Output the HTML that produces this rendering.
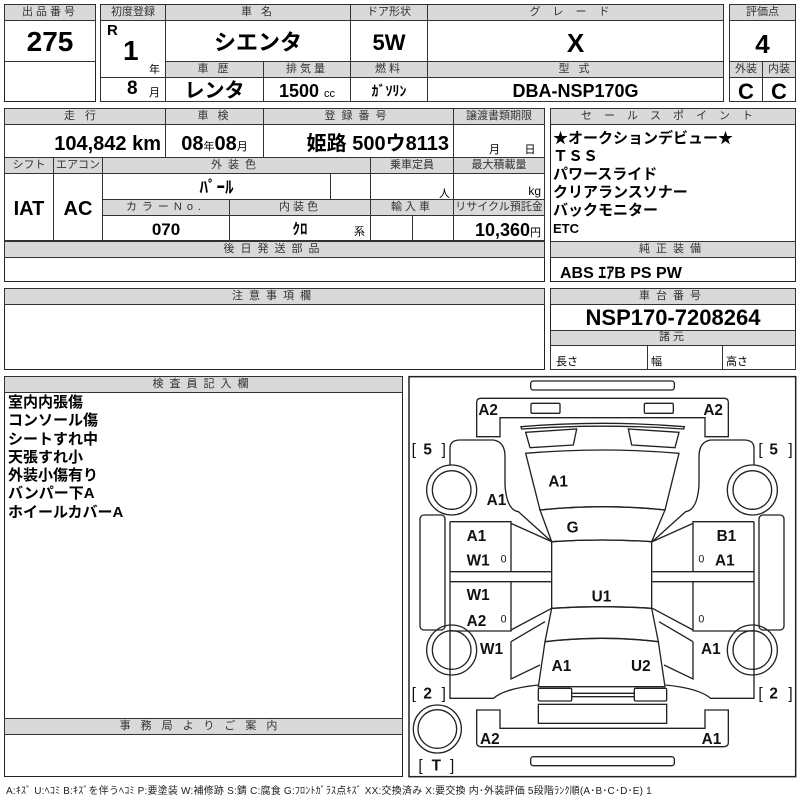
<!DOCTYPE html>
<html><head><meta charset="utf-8">
<style>
body{margin:0;width:800px;height:800px;background:#fff;position:relative;overflow:hidden;font-family:"Liberation Sans","Noto Sans CJK JP",sans-serif;color:#000}
div{position:absolute;box-sizing:border-box}
.b{border:1.5px solid #222}
.h{background:#d9d9d9;border:1px solid #333;font-size:11px;color:#333;text-align:center;line-height:14px;letter-spacing:3px;overflow:hidden;white-space:nowrap}
.c{border:1px solid #333;overflow:hidden;white-space:nowrap}
.v{font-weight:bold;text-align:center;font-size:22px}
.s{font-size:11px;font-weight:normal}
</style></head><body>
<!-- block1 -->
<div class="b" style="left:4px;top:4px;width:92px;height:98px"></div>
<div class="h" style="left:4px;top:4px;width:92px;height:17px">出品番号</div>
<div class="c v" style="left:4px;top:20px;width:92px;height:42px;font-size:28px;line-height:42px">275</div>
<!-- block2 -->
<div class="b" style="left:100px;top:4px;width:624px;height:98px"></div>
<div class="h" style="left:100px;top:4px;width:66px;height:17px;letter-spacing:0">初度登録</div>
<div class="h" style="left:165px;top:4px;width:186px;height:17px">車 名</div>
<div class="h" style="left:350px;top:4px;width:78px;height:17px;letter-spacing:0">ドア形状</div>
<div class="h" style="left:427px;top:4px;width:297px;height:17px;letter-spacing:12px">グレード</div>
<div class="c" style="left:100px;top:20px;width:66px;height:58px"><span style="position:absolute;left:6px;top:1px;font-weight:bold;font-size:15px">R</span><span style="position:absolute;left:22px;top:14px;font-weight:bold;font-size:28px">1</span><span style="position:absolute;left:48px;top:40px;font-size:11px">年</span></div>
<div class="c" style="left:100px;top:77px;width:66px;height:25px"><span style="position:absolute;left:26px;top:0;font-weight:bold;font-size:19px">8</span><span style="position:absolute;left:48px;top:6px;font-size:11px">月</span></div>
<div class="c v" style="left:165px;top:20px;width:186px;height:42px;line-height:44px">シエンタ</div>
<div class="c v" style="left:350px;top:20px;width:78px;height:42px;line-height:44px">5W</div>
<div class="c v" style="left:427px;top:20px;width:297px;height:42px;line-height:44px;font-size:26px">X</div>
<div class="h" style="left:165px;top:61px;width:99px;height:17px">車 歴</div>
<div class="h" style="left:263px;top:61px;width:88px;height:17px">排気量</div>
<div class="h" style="left:350px;top:61px;width:78px;height:17px">燃料</div>
<div class="h" style="left:427px;top:61px;width:297px;height:17px">型 式</div>
<div class="c v" style="left:165px;top:77px;width:99px;height:25px;line-height:26px;font-size:20px">レンタ</div>
<div class="c v" style="left:263px;top:77px;width:88px;height:25px;line-height:26px;font-size:18px">1500 <span class="s">cc</span></div>
<div class="c v" style="left:350px;top:77px;width:78px;height:25px;line-height:26px;font-size:14px">ｶﾞｿﾘﾝ</div>
<div class="c v" style="left:427px;top:77px;width:297px;height:25px;line-height:26px;font-size:18px">DBA-NSP170G</div>
<!-- block3 -->
<div class="b" style="left:729px;top:4px;width:67px;height:98px"></div>
<div class="h" style="left:729px;top:4px;width:67px;height:17px;letter-spacing:0">評価点</div>
<div class="c v" style="left:729px;top:20px;width:67px;height:42px;line-height:46px;font-size:26px">4</div>
<div class="h" style="left:729px;top:61px;width:34px;height:17px;letter-spacing:0">外装</div>
<div class="h" style="left:762px;top:61px;width:34px;height:17px;letter-spacing:0">内装</div>
<div class="c v" style="left:729px;top:77px;width:34px;height:25px;line-height:27px">C</div>
<div class="c v" style="left:762px;top:77px;width:34px;height:25px;line-height:27px">C</div>
<!-- block4 -->
<div class="b" style="left:4px;top:108px;width:541px;height:174px"></div>
<div class="h" style="left:4px;top:108px;width:162px;height:17px;letter-spacing:10px">走行</div>
<div class="h" style="left:165px;top:108px;width:99px;height:17px">車 検</div>
<div class="h" style="left:263px;top:108px;width:191px;height:17px;letter-spacing:6px">登録番号</div>
<div class="h" style="left:453px;top:108px;width:92px;height:17px;letter-spacing:0">譲渡書類期限</div>
<div class="c v" style="left:4px;top:124px;width:162px;height:34px;line-height:38px;text-align:right;padding-right:4px;font-size:20px">104,842 km</div>
<div class="c v" style="left:165px;top:124px;width:99px;height:34px;line-height:38px;font-size:20px">08<span class="s">年</span>08<span class="s">月</span></div>
<div class="c v" style="left:263px;top:124px;width:191px;height:34px;line-height:38px;text-align:right;padding-right:4px;font-size:20px">姫路 500ウ8113</div>
<div class="c" style="left:453px;top:124px;width:92px;height:34px;font-size:11px;padding:16px 0 0 35px">月&nbsp;&nbsp;&nbsp;&nbsp;&nbsp;&nbsp;&nbsp;&nbsp;日</div>
<div class="h" style="left:4px;top:157px;width:50px;height:17px;letter-spacing:0">シフト</div>
<div class="h" style="left:53px;top:157px;width:50px;height:17px;letter-spacing:0">エアコン</div>
<div class="h" style="left:102px;top:157px;width:269px;height:17px;letter-spacing:6px">外装色</div>
<div class="h" style="left:370px;top:157px;width:84px;height:17px;letter-spacing:0">乗車定員</div>
<div class="h" style="left:453px;top:157px;width:92px;height:17px;letter-spacing:0">最大積載量</div>
<div class="c v" style="left:4px;top:173px;width:50px;height:68px;line-height:70px;font-size:20px">IAT</div>
<div class="c v" style="left:53px;top:173px;width:50px;height:68px;line-height:70px;font-size:20px">AC</div>
<div class="c v" style="left:102px;top:173px;width:229px;height:27px;line-height:28px;font-size:17px">ﾊﾟｰﾙ</div>
<div class="c" style="left:330px;top:173px;width:41px;height:27px"></div>
<div class="c" style="left:370px;top:173px;width:84px;height:27px;font-size:11px;text-align:right;padding:11px 3px 0 0">人</div>
<div class="c" style="left:453px;top:173px;width:92px;height:27px;font-size:12px;text-align:right;padding:10px 3px 0 0">kg</div>
<div class="h" style="left:102px;top:199px;width:128px;height:17px;letter-spacing:5px">カラーNo.</div>
<div class="h" style="left:229px;top:199px;width:142px;height:17px">内装色</div>
<div class="h" style="left:370px;top:199px;width:84px;height:17px">輸入車</div>
<div class="h" style="left:453px;top:199px;width:92px;height:17px;letter-spacing:0">リサイクル預託金</div>
<div class="c v" style="left:102px;top:215px;width:128px;height:26px;line-height:28px;font-size:17px">070</div>
<div class="c v" style="left:229px;top:215px;width:142px;height:26px;line-height:28px;font-size:15px">ｸﾛ<span class="s" style="position:absolute;right:5px;top:2px">系</span></div>
<div class="c" style="left:370px;top:215px;width:43px;height:26px"></div>
<div class="c" style="left:412px;top:215px;width:42px;height:26px"></div>
<div class="c v" style="left:453px;top:215px;width:92px;height:26px;line-height:28px;font-size:18px;text-align:right;padding-right:3px">10,360<span class="s">円</span></div>
<div class="h" style="left:4px;top:241px;width:541px;height:17px;letter-spacing:6px">後日発送部品</div>
<!-- block5 -->
<div class="b" style="left:550px;top:108px;width:246px;height:174px"></div>
<div class="h" style="left:550px;top:108px;width:246px;height:17px;letter-spacing:12px">セールスポイント</div>
<div style="left:553px;top:130px;font-size:15px;font-weight:bold;line-height:18px;white-space:nowrap">★オークションデビュー★<br>ＴＳＳ<br>パワースライド<br>クリアランスソナー<br>バックモニター<br><span style="font-size:13px">ETC</span></div>
<div class="h" style="left:550px;top:241px;width:246px;height:17px;letter-spacing:6px">純正装備</div>
<div style="left:560px;top:259px;font-size:16px;font-weight:bold">ABS ｴｱB PS PW</div>
<!-- block6 -->
<div class="b" style="left:4px;top:288px;width:541px;height:82px"></div>
<div class="h" style="left:4px;top:288px;width:541px;height:17px;letter-spacing:6px">注意事項欄</div>
<!-- block7 -->
<div class="b" style="left:550px;top:288px;width:246px;height:82px"></div>
<div class="h" style="left:550px;top:288px;width:246px;height:17px;letter-spacing:6px">車台番号</div>
<div class="v" style="left:550px;top:304px;width:246px;height:27px;line-height:28px;font-size:22px">NSP170-7208264</div>
<div class="h" style="left:550px;top:330px;width:246px;height:16px;line-height:13px">諸元</div>
<div class="c" style="left:550px;top:345px;width:98px;height:25px;font-size:11px;padding:7px 0 0 5px">長さ</div>
<div class="c" style="left:647px;top:345px;width:76px;height:25px;font-size:11px;padding:7px 0 0 3px">幅</div>
<div class="c" style="left:722px;top:345px;width:74px;height:25px;font-size:11px;padding:7px 0 0 3px">高さ</div>
<!-- block8 -->
<div class="b" style="left:4px;top:376px;width:399px;height:401px"></div>
<div class="h" style="left:4px;top:376px;width:399px;height:17px;letter-spacing:6px">検査員記入欄</div>
<div style="left:8px;top:394px;font-size:15px;font-weight:bold;line-height:18.3px;white-space:nowrap">室内内張傷<br>コンソール傷<br>シートすれ中<br>天張すれ小<br>外装小傷有り<br>バンパー下A<br>ホイールカバーA</div>
<div class="h" style="left:4px;top:718px;width:399px;height:17px;letter-spacing:10px">事務局よりご案内</div>
<!-- diagram -->
<svg style="position:absolute;left:405px;top:375px" width="395" height="425" viewBox="0 0 1185 1275">
<g fill="none" stroke="#222" stroke-width="4">
<rect x="12" y="5" width="1160" height="1200" stroke-width="4.5"/>
<rect x="377" y="18" width="431" height="27" rx="8"/>
<rect x="377" y="1145" width="431" height="27" rx="8"/>
<path d="M215,185 L215,82 Q215,70 228,70 L957,70 Q970,70 970,82 L970,185 L900,185 L900,128 L285,128 L285,185 Z"/>
<rect x="378" y="85" width="87" height="30" rx="4"/>
<rect x="718" y="85" width="87" height="30" rx="4"/>
<path d="M215,1005 L285,1005 L285,1060 L900,1060 L900,1005 L970,1005 L970,1103 Q970,1115 957,1115 L228,1115 Q215,1115 215,1103 Z"/>
<path d="M348,155 Q592,135 838,155 L836,162 Q592,145 350,162 Z"/>
<path d="M362,172 L515,162 L505,210 L375,218 Z"/>
<path d="M822,172 L670,162 L680,210 L810,218 Z"/>
<path d="M362,235 Q592,215 822,235 L780,405 Q592,385 405,405 Z"/>
<path d="M405,405 Q592,385 780,405 L740,500 Q592,490 440,500 Z"/>
<path d="M440,500 Q592,490 740,500 L740,700 Q592,690 440,700 Z"/>
<path d="M440,700 Q592,690 740,700 L760,800 Q592,780 420,800 Z"/>
<path d="M420,800 Q592,780 760,800 L780,935 L400,935 Z"/>
<rect x="400" y="940" width="100" height="38" rx="4"/>
<rect x="688" y="940" width="97" height="38" rx="4"/>
<path d="M500,955 L688,955 M500,965 L688,965"/>
<rect x="400" y="988" width="385" height="57"/>
<circle cx="97" cy="1062" r="72"/><circle cx="97" cy="1062" r="58"/>
<g id="L">
<path d="M135,270 L135,220 Q135,195 165,195 L265,195 Q300,200 300,245 L300,330 Q305,405 340,410 L440,500"/>
<path d="M135,440 L135,970 L265,970 Q300,940 400,930"/>
<circle cx="140" cy="345" r="75"/><circle cx="140" cy="345" r="58"/>
<circle cx="140" cy="825" r="75"/><circle cx="140" cy="825" r="58"/>
<rect x="45" y="420" width="75" height="345" rx="12"/>
<path d="M135,440 L318,440 L318,590 M318,445 L440,500 M135,590 L440,590 M135,620 L440,620 M135,768 L318,768 L318,620 M318,765 L440,700"/>
<path d="M318,800 L420,740 M318,800 L318,912 L405,870"/>
</g>
<use href="#L" transform="translate(1182,0) scale(-1,1)"/>
</g>
<g font-family="Liberation Sans,sans-serif" font-weight="bold" font-size="46" fill="#111">
<text x="220" y="120">A2</text><text x="895" y="120">A2</text>
<text x="430" y="335">A1</text><text x="245" y="390">A1</text>
<text x="485" y="473">G</text>
<text x="185" y="498">A1</text><text x="185" y="572">W1</text>
<text x="185" y="675">W1</text><text x="185" y="753">A2</text>
<text x="225" y="837">W1</text>
<text x="560" y="680">U1</text>
<text x="440" y="888">A1</text><text x="678" y="888">U2</text>
<text x="935" y="498">B1</text><text x="930" y="572">A1</text>
<text x="888" y="837">A1</text>
<text x="225" y="1107">A2</text><text x="890" y="1107">A1</text>
<text x="20" y="238" font-weight="normal">[</text><text x="55" y="238">5</text><text x="110" y="238" font-weight="normal">]</text>
<text x="1060" y="238" font-weight="normal">[</text><text x="1093" y="238">5</text><text x="1150" y="238" font-weight="normal">]</text>
<text x="20" y="970" font-weight="normal">[</text><text x="55" y="970">2</text><text x="110" y="970" font-weight="normal">]</text>
<text x="1060" y="970" font-weight="normal">[</text><text x="1093" y="970">2</text><text x="1150" y="970" font-weight="normal">]</text>
<text x="40" y="1187" font-weight="normal">[</text><text x="80" y="1187">T</text><text x="135" y="1187" font-weight="normal">]</text>
<g font-size="32" font-weight="normal"><text x="287" y="562">0</text><text x="287" y="742">0</text><text x="880" y="562">0</text><text x="880" y="742">0</text></g>
</g>
</svg>
<div style="left:6px;top:782px;font-size:10px;color:#222;white-space:nowrap;letter-spacing:0.2px">A:ｷｽﾞ U:ﾍｺﾐ B:ｷｽﾞを伴うﾍｺﾐ P:要塗装 W:補修跡 S:錆 C:腐食 G:ﾌﾛﾝﾄｶﾞﾗｽ点ｷｽﾞ XX:交換済み X:要交換 内･外装評価 5段階ﾗﾝｸ順(A･B･C･D･E) 1</div>
</body></html>
